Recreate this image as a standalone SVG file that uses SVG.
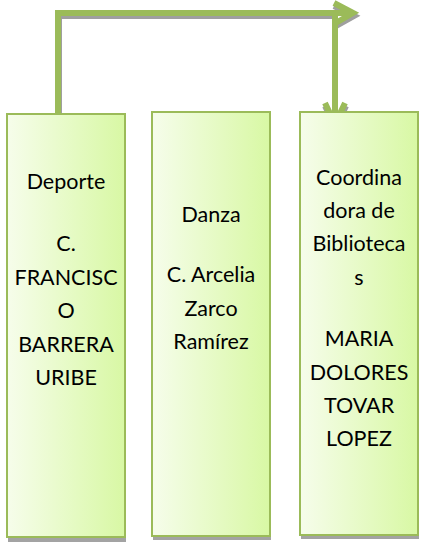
<svg xmlns="http://www.w3.org/2000/svg" width="423" height="547" viewBox="0 0 423 547">
<defs>
<linearGradient id="g" x1="0" y1="0" x2="1" y2="0">
<stop offset="0" stop-color="#f6fdeb"/>
<stop offset="1" stop-color="#d8f8a4"/>
</linearGradient>
<style>
.box{fill:url(#g);stroke:#9bbb59;stroke-width:2}
.sh{fill:#a3a3a3}
.t{font-family:Lato,"Liberation Sans",sans-serif;font-size:21.5px;fill:#000;text-anchor:middle}
.ln{fill:none;stroke:#9bbb59;stroke-width:6;stroke-linejoin:miter;stroke-linecap:butt}
.lns{fill:none;stroke:#9f9f9f;stroke-width:6;stroke-linejoin:miter;stroke-linecap:butt}
</style>
</defs>
<g id="connectors">
<path class="lns" d="M59,128 V16 H335 M335,16 V122 M334,6 L354,16 L334,27 M325,106 L336,127 L346,106"/>
<path class="ln" d="M58,125 V13 H352 M334,3 L353,13 L334,24"/>
<path class="ln" d="M335,13 V120 M325,103 L335,124 L345,103"/>
</g>
<g id="node-deporte">
<rect class="sh" x="8" y="118" width="118" height="424"/>
<rect class="box" x="7" y="114" width="118" height="423"/>
<text class="t" x="66" y="189">Deporte</text>
<text class="t" x="66" y="251">C.</text>
<text class="t" x="66" y="285">FRANCISC</text>
<text class="t" x="66" y="318">O</text>
<text class="t" x="66" y="352">BARRERA</text>
<text class="t" x="66" y="385">URIBE</text>
</g>
<g id="node-danza">
<rect class="sh" x="153" y="116" width="118" height="424"/>
<rect class="box" x="152" y="112" width="118" height="424"/>
<text class="t" x="211" y="222">Danza</text>
<text class="t" x="211" y="282">C. Arcelia</text>
<text class="t" x="211" y="316">Zarco</text>
<text class="t" x="211" y="349">Ramírez</text>
</g>
<g id="node-biblioteca">
<rect class="sh" x="301" y="116" width="118" height="423"/>
<rect class="box" x="300" y="112" width="118" height="423"/>
<text class="t" x="359" y="185">Coordina</text>
<text class="t" x="359" y="218">dora de</text>
<text class="t" x="359" y="251">Biblioteca</text>
<text class="t" x="359" y="285">s</text>
<text class="t" x="359" y="346">MARIA</text>
<text class="t" x="359" y="380">DOLORES</text>
<text class="t" x="359" y="413">TOVAR</text>
<text class="t" x="359" y="446">LOPEZ</text>
</g>
</svg>
